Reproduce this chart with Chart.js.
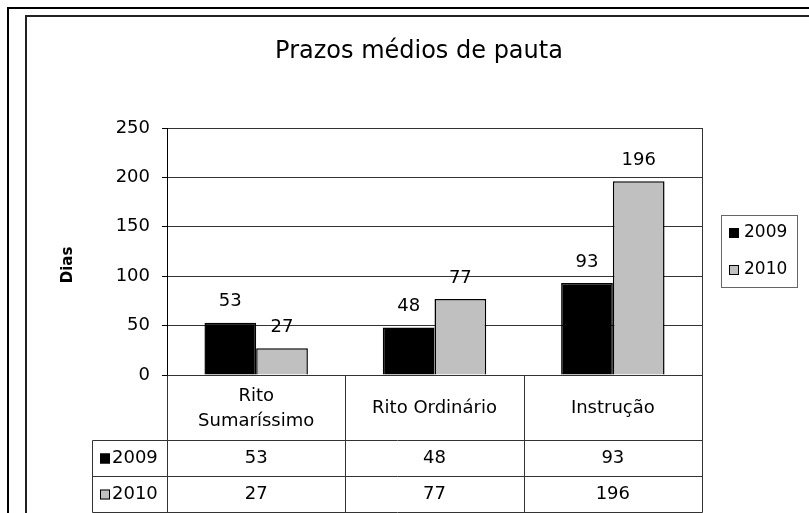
<!DOCTYPE html>
<html>
<head>
<meta charset="utf-8">
<script src="https://cdn.jsdelivr.net/npm/chart.js@4/dist/chart.umd.min.js"></script>
<style>
  html, body { margin: 0; padding: 0; background: #fff; }
  #wrap { width: 809px; height: 513px; position: relative; }
</style>
</head>
<body>
<div id="wrap"><canvas id="chart" width="809" height="513"></canvas></div>
<script>
// ---- dados ----
const categorias = [['Rito', 'Sumaríssimo'], 'Rito Ordinário', 'Instrução'];
const serie2009 = [53, 48, 93];
const serie2010 = [27, 77, 196];
const anos = ['2009', '2010'];
const cores = ['#000000', '#c0c0c0'];
const titulo = 'Prazos médios de pauta';
const tituloY = 'Dias';

const FONTE = '"DejaVu Sans", "Liberation Sans", Arial, sans-serif';

// moldura, rótulos, legenda e tabela de dados
const extras = {
  id: 'extras',
  beforeDraw(chart) {
    const ctx = chart.ctx;
    ctx.save();
    ctx.fillStyle = '#fff';
    ctx.fillRect(0, 0, chart.width, chart.height);
    ctx.strokeStyle = '#000';
    ctx.lineWidth = 2;
    ctx.beginPath();
    ctx.moveTo(8, 513); ctx.lineTo(8, 8); ctx.lineTo(809, 8);
    ctx.stroke();
    ctx.strokeStyle = '#222';
    ctx.beginPath();
    ctx.moveTo(26, 513); ctx.lineTo(26, 16); ctx.lineTo(809, 16);
    ctx.stroke();
    ctx.restore();
  },
  afterDraw(chart) {
    const ctx = chart.ctx;
    const area = chart.chartArea;
    const x = chart.scales.x;
    ctx.save();

    // título
    ctx.fillStyle = '#000';
    ctx.font = '24px ' + FONTE;
    ctx.textAlign = 'center';
    ctx.textBaseline = 'middle';
    ctx.fillText(titulo, 419, 52);

    // título do eixo Y
    ctx.save();
    ctx.translate(68, 265);
    ctx.rotate(-Math.PI / 2);
    ctx.font = 'bold 15px ' + FONTE;
    ctx.fillText(tituloY, 0, 0);
    ctx.restore();

    // rótulos dos valores
    ctx.font = '18px ' + FONTE;
    ctx.textBaseline = 'bottom';
    chart.data.datasets.forEach((ds, i) => {
      chart.getDatasetMeta(i).data.forEach((bar, j) => {
        ctx.fillText(String(ds.data[j]), bar.x, bar.y - 12);
      });
    });

    // borda direita da área do gráfico e grade da tabela
    ctx.strokeStyle = '#333';
    ctx.lineWidth = 1;
    const right = Math.round(area.right) + 0.5;
    const left = Math.round(area.left) + 0.5;
    const bottom = Math.round(area.bottom) + 0.5;
    const rows = [bottom + 65, bottom + 101, bottom + 137];
    const tabLeft = 92.5;
    ctx.beginPath();
    ctx.moveTo(right, area.top); ctx.lineTo(right, rows[2]);
    ctx.moveTo(left, bottom); ctx.lineTo(left, rows[2]);
    ctx.moveTo(tabLeft, rows[0]); ctx.lineTo(tabLeft, rows[2]);
    rows.forEach(r => { ctx.moveTo(tabLeft, r); ctx.lineTo(right, r); });
    const w = (area.right - area.left) / categorias.length;
    for (let i = 1; i < categorias.length; i++) {
      const xx = Math.round(area.left + w * i) + 0.5;
      ctx.moveTo(xx, bottom); ctx.lineTo(xx, rows[2]);
    }
    ctx.stroke();

    // cabeçalho de categorias
    ctx.fillStyle = '#000';
    ctx.font = '18px ' + FONTE;
    ctx.textBaseline = 'middle';
    ctx.textAlign = 'center';
    const centroCab = (bottom + rows[0]) / 2;
    categorias.forEach((c, i) => {
      const cx = x.getPixelForValue(i);
      if (Array.isArray(c)) {
        ctx.fillText(c[0], cx, centroCab - 12);
        ctx.fillText(c[1], cx, centroCab + 13);
      } else {
        ctx.fillText(c, cx, centroCab);
      }
    });

    // linhas de valores
    const series = [serie2009, serie2010];
    series.forEach((s, r) => {
      const cy = (r === 0 ? (rows[0] + rows[1]) : (rows[1] + rows[2])) / 2;
      s.forEach((v, i) => {
        ctx.textAlign = 'center';
        ctx.fillText(String(v), x.getPixelForValue(i), cy);
      });
      ctx.fillStyle = cores[r];
      ctx.fillRect(100, cy - 5, 10, 10);
      ctx.strokeStyle = '#000';
      ctx.strokeRect(100.5, cy - 4.5, 9, 9);
      ctx.fillStyle = '#000';
      ctx.textAlign = 'left';
      ctx.fillText(anos[r], 112, cy);
    });

    // legenda
    ctx.strokeStyle = '#666';
    ctx.strokeRect(721.5, 215.5, 76, 72);
    ctx.font = '17px ' + FONTE;
    [233, 270].forEach((cy, r) => {
      ctx.fillStyle = cores[r];
      ctx.fillRect(729, cy - 5, 10, 10);
      ctx.strokeStyle = '#000';
      ctx.strokeRect(729.5, cy - 4.5, 9, 9);
      ctx.fillStyle = '#000';
      ctx.textAlign = 'left';
      ctx.fillText(anos[r], 744, cy);
    });

    ctx.restore();
  }
};

new Chart(document.getElementById('chart'), {
  type: 'bar',
  data: {
    labels: categorias,
    datasets: [
      { label: anos[0], data: serie2009, backgroundColor: cores[0], borderColor: '#000', borderWidth: 1.5 },
      { label: anos[1], data: serie2010, backgroundColor: cores[1], borderColor: '#000', borderWidth: 1.5 },
    ],
  },
  options: {
    responsive: false,
    animation: false,
    layout: { padding: { top: 128, right: 107, bottom: 138, left: 0 } },
    datasets: { bar: { categoryPercentage: 0.58, barPercentage: 1.0 } },
    scales: {
      x: { display: false },
      y: {
        min: 0,
        max: 250,
        afterFit: s => { s.width = 167; },
        ticks: { stepSize: 50, color: '#000', padding: 12, font: { family: FONTE, size: 18 } },
        grid: { color: '#333', lineWidth: 1, tickLength: 5, tickColor: '#000' },
        border: { display: true, color: '#000' },
      },
    },
    plugins: {
      legend: { display: false },
      title: { display: false },
      tooltip: { enabled: false },
    },
  },
  plugins: [extras],
});
</script>
</body>
</html>
